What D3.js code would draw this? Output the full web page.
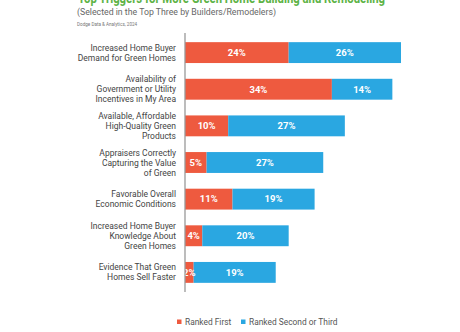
<!DOCTYPE html>
<html><head><meta charset="utf-8">
<script src="https://cdn.jsdelivr.net/npm/d3@7"></script>
<style>body{margin:0;background:#fff}svg{display:block}text{font-family:Roboto,"Noto Sans",sans-serif}</style>
</head><body><svg id="c" width="460" height="332"></svg>
<script>
const categories = [
  ["Increased Home Buyer","Demand for Green Homes"],
  ["Availability of","Government or Utility","Incentives in My Area"],
  ["Available, Affordable","High-Quality Green","Products"],
  ["Appraisers Correctly","Capturing the Value","of Green"],
  ["Favorable Overall","Economic Conditions"],
  ["Increased Home Buyer","Knowledge About","Green Homes"],
  ["Evidence That Green","Homes Sell Faster"]
];
const rankedFirst = [24, 34, 10, 5, 11, 4, 2];
const rankedSecondThird = [26, 14, 27, 27, 19, 20, 19];
const seriesNames = ["Ranked First", "Ranked Second or Third"];
const colors = ["#EE5A3F", "#2AA7E1"];
const title = "Top Triggers for More Green Home Building and Remodeling";
const subtitle = "(Selected in the Top Three by Builders/Remodelers)";
const source = "Dodge Data & Analytics, 2024";

const svg = d3.select("#c");
const x0 = 185;
const x = d3.scaleLinear().domain([0, 50]).range([x0, 401]);
const y = d3.scaleBand().domain(d3.range(categories.length)).range([33, 292]).paddingInner(0.43).paddingOuter(0.25);

svg.append("text").attr("x", 78).attr("y", 3).attr("fill", "#5DB346").attr("font-size", 14.5).attr("font-weight", 700)
  .attr("textLength", 307).attr("lengthAdjust", "spacingAndGlyphs").text(title);
svg.append("text").attr("x", 77).attr("y", 15).attr("fill", "#666").attr("font-size", 9.3)
  .attr("textLength", 199).attr("lengthAdjust", "spacingAndGlyphs").text(subtitle);
svg.append("text").attr("x", 77).attr("y", 25.5).attr("fill", "#777").attr("font-size", 4.6).text(source);

const g = svg.append("g");
categories.forEach((lines, i) => {
  const yc = y(i) + y.bandwidth() / 2;
  const a = rankedFirst[i], b = rankedSecondThird[i];
  g.append("rect").attr("x", x(0)).attr("y", y(i)).attr("width", x(a) - x(0)).attr("height", y.bandwidth()).attr("fill", colors[0]);
  g.append("rect").attr("x", x(a)).attr("y", y(i)).attr("width", x(a + b) - x(a)).attr("height", y.bandwidth()).attr("fill", colors[1]);
  g.append("text").attr("x", (x(0) + x(a)) / 2).attr("y", yc + 3.3).attr("text-anchor", "middle").attr("fill", "#fff").attr("font-size", 9.5).attr("font-weight", 700).text(a + "%");
  g.append("text").attr("x", (x(a) + x(a + b)) / 2).attr("y", yc + 3.3).attr("text-anchor", "middle").attr("fill", "#fff").attr("font-size", 9.5).attr("font-weight", 700).text(b + "%");
  const t = g.append("text").attr("text-anchor", "end").attr("fill", "#444").attr("font-size", 8.5);
  const n = lines.length;
  lines.forEach((l, k) => {
    t.append("tspan").attr("x", 176).attr("y", yc + 3 + (k - (n - 1) / 2) * 10).text(l);
  });
});

svg.append("line").attr("x1", x0).attr("x2", x0).attr("y1", 33).attr("y2", 292).attr("stroke", "#999").attr("stroke-width", 1.3);

const leg = [[177, 185], [241, 249]];
seriesNames.forEach((s, i) => {
  svg.append("rect").attr("x", leg[i][0]).attr("y", 319.5).attr("width", 4.5).attr("height", 4.5).attr("fill", colors[i]);
  svg.append("text").attr("x", leg[i][1]).attr("y", 324.5).attr("fill", "#555").attr("font-size", 8.4).text(s);
});
</script></body></html>
